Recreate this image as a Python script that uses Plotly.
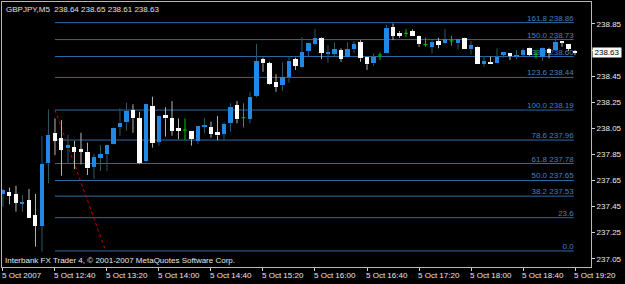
import plotly.graph_objects as go

# ---------------- data ----------------
symbol_header = "GBPJPY,M5  238.64 238.65 238.61 238.63"
copyright_text = "Interbank FX Trader 4, \u00a9 2001-2007 MetaQuotes Software Corp."

opens = [237.544, 237.564, 237.546, 237.470, 237.498, 237.385, 237.301, 237.786, 238.016, 237.973,
         237.896, 237.909, 237.891, 237.871, 237.756, 237.822, 237.853, 237.927, 238.058, 238.096,
         238.190, 238.126, 237.799, 238.223, 237.947, 238.152, 238.126, 238.052, 238.037, 238.031,
         237.955, 238.060, 238.062, 238.021, 238.009, 238.093, 238.228, 238.131, 238.121, 238.300,
         238.581, 238.548, 238.407, 238.382, 238.443, 238.581, 238.522, 238.642, 238.693, 238.739,
         238.626, 238.622, 238.650, 238.594, 238.658, 238.709, 238.599, 238.548, 238.612, 238.629,
         238.828, 238.782, 238.778, 238.795, 238.759, 238.693, 238.671, 238.719, 238.701, 238.719,
         238.701, 238.739, 238.655, 238.675, 238.543, 238.553, 238.548, 238.612, 238.629, 238.604,
         238.612, 238.663, 238.617, 238.599, 238.655, 238.650, 238.719, 238.696, 238.640]
highs = [237.585, 237.595, 237.610, 237.539, 237.585, 237.546, 237.991, 238.195, 238.126, 238.113,
         237.999, 237.953, 238.016, 237.940, 237.853, 237.922, 237.925, 238.058, 238.203, 238.246,
         238.234, 238.177, 238.237, 238.292, 238.150, 238.211, 238.259, 238.126, 238.126, 238.031,
         238.070, 238.131, 238.101, 238.144, 238.096, 238.242, 238.259, 238.241, 238.326, 238.696,
         238.591, 238.560, 238.464, 238.556, 238.594, 238.591, 238.747, 238.706, 238.811, 238.747,
         238.688, 238.709, 238.663, 238.709, 238.719, 238.726, 238.599, 238.625, 238.632, 238.842,
         238.854, 238.795, 238.811, 238.808, 238.762, 238.744, 238.726, 238.744, 238.811, 238.759,
         238.736, 238.744, 238.719, 238.678, 238.599, 238.599, 238.663, 238.632, 238.629, 238.650,
         238.663, 238.668, 238.650, 238.670, 238.668, 238.744, 238.719, 238.696, 238.650]
lows = [237.450, 237.468, 237.411, 237.411, 237.365, 237.143, 237.104, 237.628, 237.845, 237.687,
        237.782, 237.738, 237.774, 237.692, 237.661, 237.723, 237.723, 237.924, 237.993, 238.031,
        238.016, 237.774, 237.790, 237.902, 237.917, 237.986, 237.993, 237.966, 237.960, 237.917,
        237.930, 238.011, 237.978, 237.958, 237.955, 238.024, 238.088, 238.058, 238.088, 238.287,
        238.484, 238.382, 238.330, 238.336, 238.399, 238.497, 238.510, 238.604, 238.683, 238.581,
        238.553, 238.599, 238.560, 238.594, 238.625, 238.560, 238.497, 238.530, 238.573, 238.625,
        238.726, 238.744, 238.752, 238.759, 238.675, 238.675, 238.625, 238.663, 238.693, 238.683,
        238.655, 238.658, 238.617, 238.543, 238.522, 238.543, 238.548, 238.591, 238.573, 238.579,
        238.599, 238.606, 238.586, 238.566, 238.586, 238.650, 238.675, 238.642, 238.610]
closes = [237.577, 237.531, 237.480, 237.483, 237.365, 237.303, 237.776, 237.999, 237.955, 237.884,
          237.922, 237.871, 237.871, 237.743, 237.828, 237.853, 237.922, 238.055, 238.093, 238.183,
          238.126, 237.782, 238.234, 237.935, 238.146, 238.126, 238.031, 238.029, 238.037, 237.966,
          238.068, 238.070, 238.006, 237.996, 238.083, 238.211, 238.119, 238.131, 238.292, 238.566,
          238.548, 238.387, 238.369, 238.443, 238.568, 238.530, 238.632, 238.706, 238.744, 238.629,
          238.632, 238.658, 238.581, 238.658, 238.696, 238.586, 238.540, 238.599, 238.612, 238.821,
          238.759, 238.759, 238.778, 238.759, 238.693, 238.693, 238.709, 238.688, 238.734, 238.719,
          238.734, 238.658, 238.688, 238.543, 238.566, 238.543, 238.599, 238.632, 238.606, 238.609,
          238.650, 238.612, 238.617, 238.663, 238.629, 238.714, 238.709, 238.658, 238.630]
bar_index = list(range(len(opens)))

tick_bars = [0, 8, 16, 24, 32, 40, 48, 56, 64, 72, 80, 88]
tick_labels = ["5 Oct 2007", "5 Oct 12:40", "5 Oct 13:20", "5 Oct 14:00", "5 Oct 14:40",
               "5 Oct 15:20", "5 Oct 16:00", "5 Oct 16:40", "5 Oct 17:20", "5 Oct 18:00",
               "5 Oct 18:40", "5 Oct 19:20"]

price_ticks = [237.05, 237.25, 237.45, 237.65, 237.85, 238.05, 238.25, 238.45, 238.65, 238.85]
last_price = 238.63

fib_prices = [238.86, 238.73, 238.60, 238.44, 238.19, 237.96, 237.78, 237.65, 237.53, 237.365, 237.11]
fib_labels = ["161.8 238.86", "150.0 238.73", "138.2 238.60", "123.6 238.44", "100.0 238.19",
              "78.6 237.96", "61.8 237.78", "50.0 237.65", "38.2 237.53", "23.6", "0.0"]
fib_start_bar = 8
fib_end_bar = 87.8
trend_bars = [8, 15.8]
trend_prices = [238.19, 237.11]

# ---------------- styles ----------------
BULL_BODY = "#2188e6"
BEAR_BODY = "#ffffff"
BULL_WICK = "#2c5966"
BEAR_WICK = "#b4b4b4"
DOJI = "#00c000"
FIB_LINE = "#2f6aa0"
FIB_TEXT = "#3f80c4"
FONT = "Liberation Sans"
BODY_W = 0.62
MIN_BODY = 0.008

fig = go.Figure()

wx = {"bull": [], "bear": []}
wy = {"bull": [], "bear": []}
dx, dy = [], []
bx, bbase, bh, bcol = [], [], [], []
for i, o, h, l, c in zip(bar_index, opens, highs, lows, closes):
    if o == c:
        dx += [i, i, None, i - BODY_W / 2, i + BODY_W / 2, None]
        dy += [l, h, None, o, o, None]
        continue
    k = "bull" if c > o else "bear"
    top, bot = max(o, c), min(o, c)
    wx[k] += [i, i, None, i, i, None]
    wy[k] += [top, h, None, l, bot, None]
    bx.append(i)
    bbase.append(bot)
    bh.append(max(top - bot, MIN_BODY))
    bcol.append(BULL_BODY if k == "bull" else BEAR_BODY)

fig.add_trace(go.Scatter(x=wx["bull"], y=wy["bull"], mode="lines",
                         line=dict(color=BULL_WICK, width=1), hoverinfo="skip"))
fig.add_trace(go.Scatter(x=wx["bear"], y=wy["bear"], mode="lines",
                         line=dict(color=BEAR_WICK, width=1), hoverinfo="skip"))
fig.add_trace(go.Bar(x=bx, y=bh, base=bbase, width=BODY_W,
                     marker=dict(color=bcol, line=dict(width=0)), hoverinfo="skip"))
fig.add_trace(go.Scatter(x=dx, y=dy, mode="lines",
                         line=dict(color=DOJI, width=1), hoverinfo="skip"))

shapes = []
for p, lbl in zip(fib_prices, fib_labels):
    shapes.append(dict(type="line", xref="x", yref="y", x0=fib_start_bar, x1=fib_end_bar,
                       y0=p, y1=p, layer="below", line=dict(color=FIB_LINE, width=1),
                       label=dict(text=lbl, textposition="end", xanchor="right",
                                  yanchor="bottom", padding=1,
                                  font=dict(family=FONT, size=8, color=FIB_TEXT))))
shapes.append(dict(type="line", xref="x", yref="y", x0=trend_bars[0], x1=trend_bars[1],
                   y0=trend_prices[0], y1=trend_prices[1], layer="below",
                   line=dict(color="#d00000", width=1, dash="dot")))

annotations = []
for b, t in zip(tick_bars, tick_labels):
    annotations.append(dict(x=b, y=0, xref="x", yref="paper", text=t, showarrow=False,
                            xanchor="left", yanchor="top", xshift=-3, yshift=-2,
                            font=dict(family=FONT, size=8, color="#e8e8e8")))
annotations.append(dict(x=0, y=1, xref="paper", yref="paper", text=symbol_header,
                        showarrow=False, xanchor="left", yanchor="top", xshift=2, yshift=-1,
                        font=dict(family=FONT, size=8, color="#e0e0e0")))
annotations.append(dict(x=0, y=0, xref="paper", yref="paper", text=copyright_text,
                        showarrow=False, xanchor="left", yanchor="bottom", xshift=1, yshift=0,
                        font=dict(family=FONT, size=8, color="#e8e8e8")))
# current-price tag sits over the 238.65 tick (its label is hidden behind the tag)
annotations.append(dict(x=1, y=last_price, xref="paper", yref="y", text=f"{last_price:.2f}",
                        showarrow=False, xanchor="left", yanchor="middle", xshift=1,
                        width=28, align="center", bgcolor="#ffffff", borderpad=0,
                        font=dict(family=FONT, size=8, color="#000000")))

tick_text = ["" if abs(v - 238.65) < 1e-9 else f"{v:.2f}" for v in price_ticks]

fig.update_layout(
    width=625, height=284,
    margin=dict(l=2, r=34, t=2, b=17),
    paper_bgcolor="#000000", plot_bgcolor="#000000",
    showlegend=False, bargap=0,
    shapes=shapes, annotations=annotations,
    xaxis=dict(range=[-0.15, 90.46], showgrid=False, zeroline=False,
               showline=True, linecolor="#b8b8b8", linewidth=1, mirror=True,
               ticks="outside", ticklen=3, tickcolor="#d0d0d0",
               tickvals=tick_bars, showticklabels=False, fixedrange=True),
    yaxis=dict(side="right", range=[236.987, 239.018], showgrid=False, zeroline=False,
               showline=True, linecolor="#b8b8b8", linewidth=1, mirror=True,
               ticks="outside", ticklen=3, tickcolor="#d0d0d0",
               tickvals=price_ticks, ticktext=tick_text,
               tickfont=dict(family=FONT, size=8, color="#e8e8e8"), fixedrange=True),
)

fig.write_html("out.html")
